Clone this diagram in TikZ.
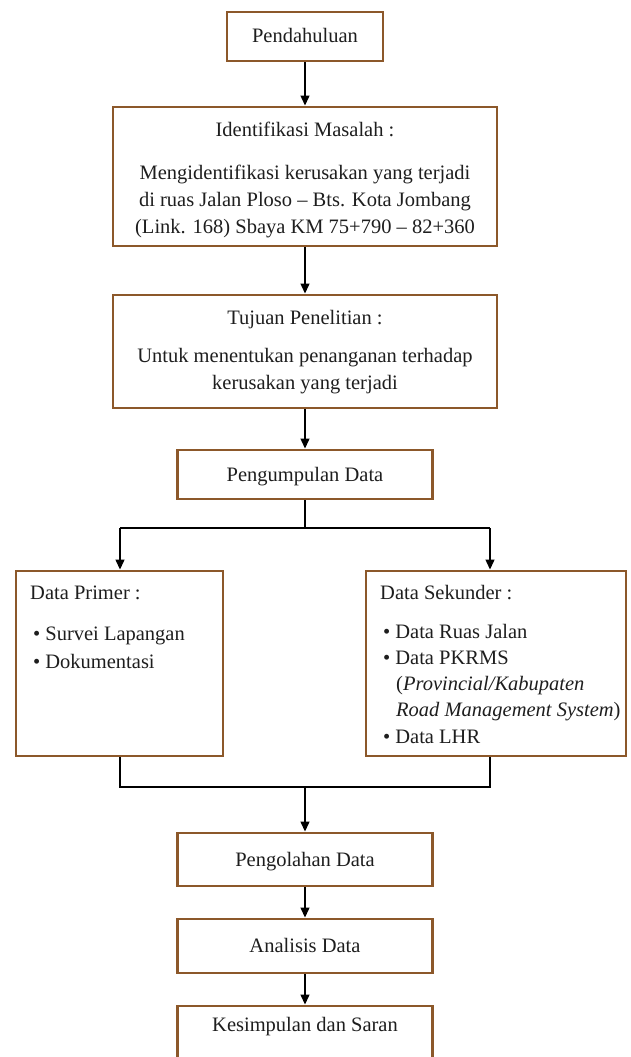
\documentclass[tikz,border=0pt]{standalone}
\usepackage{fontspec}
\setmainfont{Liberation Serif}
\usetikzlibrary{arrows.meta}
\definecolor{boxbrown}{RGB}{140,88,42}
\definecolor{ink}{RGB}{30,30,30}
\tikzset{
  box/.style={draw=boxbrown, line width=2.6pt, fill=white, inner sep=0pt},
  txt/.style={anchor=base, inner sep=0pt, text=ink, font=\fontsize{20.5}{28}\selectfont},
  ltxt/.style={txt, anchor=base west},
  link/.style={line width=2.2pt, black},
  arr/.style={link, -{Triangle[width=8.5pt,length=10pt]}},
}
\begin{document}
\begin{tikzpicture}[x=1pt, y=-1pt]
\useasboundingbox (0,0) rectangle (630,1057);
\clip (0,0) rectangle (630,1057);

% boxes
\node[box, minimum width=156, minimum height=49] (pd) at (305,36.5) {};
\node[box, minimum width=384, minimum height=139] (im) at (305,176.5) {};
\node[box, minimum width=384, minimum height=113] (tp) at (305,351.5) {};
\node[box, minimum width=255, minimum height=49] (pg) at (305,474.5) {};
\node[box, minimum width=207, minimum height=185] (dp) at (119.5,663.5) {};
\node[box, minimum width=260, minimum height=185] (ds) at (496,663.5) {};
\node[box, minimum width=255, minimum height=53] (po) at (305,859.5) {};
\node[box, minimum width=255, minimum height=54] (an) at (305,946) {};
\node[box, minimum width=255, minimum height=58] (ks) at (305,1035) {};

% texts
\node[txt] (tpd) at (305,42.5) {Pendahuluan};
\node[txt] (tim0) at (305,136) {Identifikasi Masalah :};
\node[txt] (tim1) at (305,179) {Mengidentifikasi kerusakan yang terjadi};
\node[txt] (tim2) at (305,206) {di ruas Jalan Ploso -- Bts. Kota Jombang};
\node[txt] (tim3) at (305,233) {(Link. 168) Sbaya KM 75+790 -- 82+360};
\node[txt] (ttp0) at (305,324) {Tujuan Penelitian :};
\node[txt] (ttp1) at (305,362) {Untuk menentukan penanganan terhadap};
\node[txt] (ttp2) at (305,389) {kerusakan yang terjadi};
\node[txt] (tpg) at (305,481) {Pengumpulan Data};

\node[ltxt] (tdp0) at (30,599) {Data Primer :};
\node[ltxt] (tdp1) at (33,640) {\textbullet\hspace{5pt}Survei Lapangan};
\node[ltxt] (tdp2) at (33,668) {\textbullet\hspace{5pt}Dokumentasi};

\node[ltxt] (tds0) at (380,599) {Data Sekunder :};
\node[ltxt] (tds1) at (383,638) {\textbullet\hspace{5pt}Data Ruas Jalan};
\node[ltxt] (tds2) at (383,664) {\textbullet\hspace{5pt}Data PKRMS};
\node[ltxt] (tds3) at (396,690) {(\textit{Provincial/Kabupaten}};
\node[ltxt] (tds4) at (396,716) {\textit{Road Management System})};
\node[ltxt] (tds5) at (383,743) {\textbullet\hspace{5pt}Data LHR};

\node[txt] (tpo) at (305,866) {Pengolahan Data};
\node[txt] (tan) at (305,952) {Analisis Data};
\node[txt] (tks) at (305,1031) {Kesimpulan dan Saran};

% connectors
\draw[arr] (pd.south) -- (im.north);
\draw[arr] (im.south) -- (tp.north);
\draw[arr] (tp.south) -- (pg.north);

\coordinate (bm) at (305,528);
\coordinate (bl) at (120,528);
\coordinate (bk) at (490,528);
\draw[link] (pg.south) -- (bm);
\draw[link] (bl) -- (bk);
\draw[arr] (bl) -- (bl |- dp.north);
\draw[arr] (bk) -- (bk |- ds.north);

\coordinate (jl) at (120,787);
\coordinate (jk) at (490,787);
\coordinate (jm) at (305,787);
\draw[link] (jl |- dp.south) -- (jl) -- (jk) -- (jk |- ds.south);
\draw[arr] (jm) -- (po.north);
\draw[arr] (po.south) -- (an.north);
\draw[arr] (an.south) -- (ks.north);
\end{tikzpicture}
\end{document}
